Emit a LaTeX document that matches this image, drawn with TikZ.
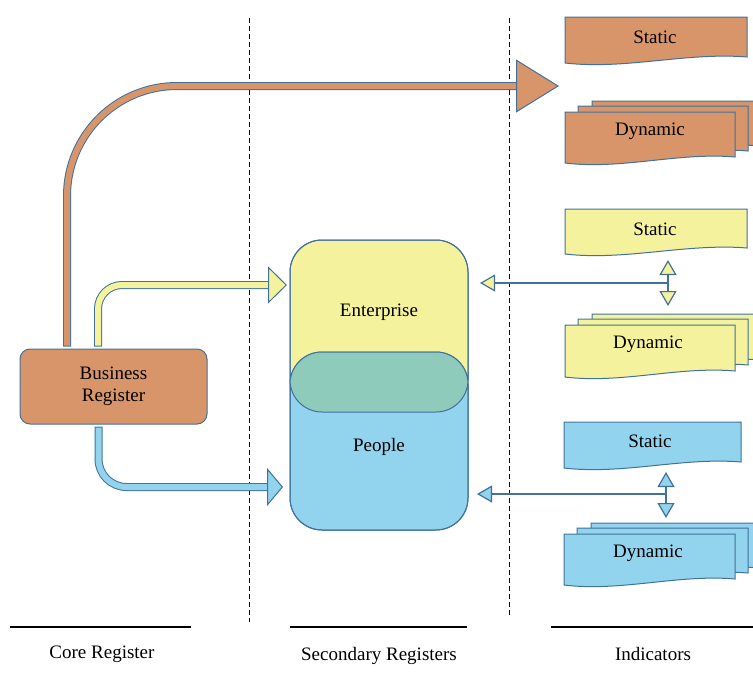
\documentclass[tikz,border=0pt]{standalone}
\usepackage{fontspec}
\setmainfont{Liberation Serif}
\usetikzlibrary{arrows.meta}

\definecolor{rand}{RGB}{65,113,156}
\definecolor{kern}{RGB}{217,149,106}
\definecolor{unternehmen}{RGB}{245,242,157}
\definecolor{personen}{RGB}{146,211,238}
\definecolor{schnitt}{RGB}{142,203,186}

\tikzset{
  txt/.style={font=\fontsize{19}{23}\selectfont, align=center, inner sep=0pt},
  blatt/.style={fill=#1, draw=rand, line width=1pt},
  kernbox/.style={txt, fill=kern, draw=rand, line width=1pt, rounded corners=10pt,
    minimum width=187pt, minimum height=75pt},
  schaft/.style={draw=#1, line width=6pt, line cap=rect,
    preaction={draw=rand, line width=8pt, line cap=rect}},
  spitze/.style n args={3}{draw=rand, line width=1pt,
    -{Triangle[length=#2, width=#3, fill=#1]}},
  pfeil/.style={draw=rand, line width=1.2pt,
    -{Triangle[length=15pt, width=17pt, fill=#1]}},
  trenner/.style={black, line width=0.9pt, dash pattern=on 5pt off 3pt},
  balken/.style={black, line width=2.6pt}
}

% Blatt mit Wellenkante: x, y (oben links), Breite, Hoehe, Farbe
\newcommand{\blatt}[5]{%
  \path[blatt=#5] (#1,#2) -- ({#1+#3},#2) -- ({#1+#3},{#2+#4-6})
    .. controls ({#1+0.67*#3},{#2+#4-11}) and ({#1+0.33*#3},{#2+#4+7}) .. (#1,{#2+#4}) -- cycle;}
% drei Blaetter hintereinander
\newcommand{\stapel}[5]{%
  \blatt{#1+27}{#2-11}{#3}{#4}{#5}
  \blatt{#1+13}{#2-6}{#3}{#4}{#5}
  \blatt{#1}{#2}{#3}{#4}{#5}}

\begin{document}
\begin{tikzpicture}[x=1pt, y=-1pt]
  \useasboundingbox (0,0) rectangle (753,675);
  \clip (0,0) rectangle (753,675);

  % Spalten
  \draw[trenner] (249,18) -- (249,622);
  \draw[trenner] (509,18) -- (509,616);

  \draw[balken] (10,627) -- (191,627);
  \draw[balken] (290,627) -- (467,627);
  \draw[balken] (551,627) -- (753,627);
  \node[txt] (kernlbl) at (102,654) {Core Register};
  \node[txt] (sekundlbl) at (379,656) {Secondary Registers};
  \node[txt] (indlbl) at (653,654) {Indicators};

  % Kernregister
  \node[kernbox] (br) at (113.5,386.5) {Business\\[-1pt]Register};

  % Enterprise / People
  \path[blatt=unternehmen, rounded corners=32pt] (290,240) rectangle (468,412);
  \path[blatt=personen, rounded corners=32pt] (290,352) rectangle (468,530);
  \begin{scope}
    \clip[rounded corners=32pt] (290,240) rectangle (468,412);
    \fill[schnitt, rounded corners=32pt] (290,352) rectangle (468,530);
  \end{scope}
  \draw[rand, line width=1pt, rounded corners=32pt]
    (290,240) rectangle (468,412) (290,352) rectangle (468,530);
  \node[txt] (ent) at (379,312) {Enterprise};
  \node[txt] (ppl) at (379,447) {People};

  % Indikatoren
  \blatt{565}{17}{182}{46}{kern}
  \node[txt] (kstatic) at (655,37) {Static};
  \stapel{565}{112}{170}{51}{kern}
  \node[txt] (kdynamic) at (650,131) {Dynamic};

  \blatt{565}{209}{182}{45}{unternehmen}
  \node[txt] (ustatic) at (655,229) {Static};
  \stapel{565}{325}{170}{52}{unternehmen}
  \node[txt] (udynamic) at (648,344) {Dynamic};

  \blatt{564}{422}{177}{46}{personen}
  \node[txt] (pstatic) at (650,441) {Static};
  \stapel{564}{534}{171}{51}{personen}
  \node[txt] (pdynamic) at (648,553) {Dynamic};

  % Blockpfeile
  \draw[schaft=kern, rounded corners=110pt]
    ([xshift=-46.5pt,yshift=6pt]br.north) |- (516,86) coordinate (kende);
  \draw[spitze={kern}{43pt}{53pt}] (kende) -- ++(43,0);

  \draw[schaft=unternehmen, rounded corners=24pt]
    ([xshift=-15.5pt,yshift=6pt]br.north) |- (268,285) coordinate (uende);
  \draw[spitze={unternehmen}{19pt}{37pt}] (uende) -- ++(19,0);

  \draw[schaft=personen, rounded corners=28pt]
    ([xshift=-15pt,yshift=-6pt]br.south) |- (267,487) coordinate (pende);
  \draw[spitze={personen}{16pt}{38pt}] (pende) -- ++(16,0);

  % Verbindungen zu den Indikatoren
  \coordinate (uknoten) at (668,283);
  \draw[pfeil=unternehmen] (uknoten) -- (480,283);
  \draw[pfeil=unternehmen] (uknoten) -- (668,260);
  \draw[pfeil=unternehmen] (uknoten) -- (668,306);

  \coordinate (pknoten) at (666,494);
  \draw[pfeil=personen] (pknoten) -- (477,494);
  \draw[pfeil=personen] (pknoten) -- (666,472);
  \draw[pfeil=personen] (pknoten) -- (666,518);
\end{tikzpicture}
\end{document}
